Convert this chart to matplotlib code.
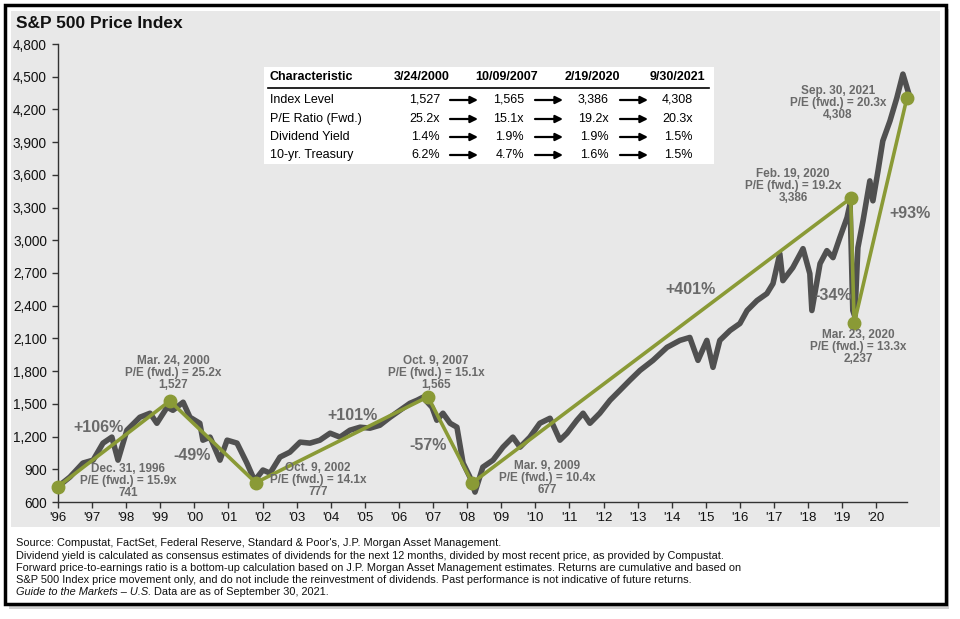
import matplotlib
matplotlib.use("Agg")
import matplotlib.pyplot as plt
from matplotlib.patches import Rectangle, FancyArrowPatch

plt.rcParams['font.family'] = ['Liberation Sans', 'DejaVu Sans']

# ---------------- data ----------------
price_x = [1996.00, 1996.35, 1996.73, 1997.03, 1997.32, 1997.58, 1997.76, 1998.02, 1998.40, 1998.70,
           1998.90, 1999.20, 1999.37, 1999.67, 1999.87, 2000.16, 2000.25, 2000.46, 2000.75, 2000.96,
           2001.25, 2001.54, 2001.72, 2001.78, 2002.01, 2002.22, 2002.51, 2002.80, 2003.10, 2003.39,
           2003.68, 2003.98, 2004.27, 2004.56, 2004.86, 2005.15, 2005.44, 2005.74, 2006.03, 2006.32,
           2006.53, 2006.70, 2006.97, 2007.11, 2007.29, 2007.50, 2007.70, 2007.88, 2008.08, 2008.23,
           2008.46, 2008.76, 2009.05, 2009.34, 2009.55, 2009.84, 2010.13, 2010.43, 2010.72, 2010.93,
           2011.22, 2011.40, 2011.60, 2011.89, 2012.19, 2012.48, 2012.77, 2013.07, 2013.45, 2013.86,
           2014.24, 2014.53, 2014.77, 2015.03, 2015.21, 2015.41, 2015.71, 2016.00, 2016.21, 2016.50,
           2016.79, 2016.97, 2017.17, 2017.26, 2017.55, 2017.85, 2018.05, 2018.11, 2018.35, 2018.55,
           2018.73, 2018.93, 2019.14, 2019.23, 2019.31, 2019.37, 2019.46, 2019.61, 2019.81, 2019.90,
           2020.05, 2020.19, 2020.40, 2020.60, 2020.78, 2020.93]
price_y = [741, 829, 957, 984, 1140, 1195, 984, 1258, 1377, 1414,
           1322, 1469, 1441, 1515, 1377, 1322, 1167, 1195, 984, 1167,
           1140, 957, 829, 801, 893, 865, 1012, 1057, 1149, 1140,
           1167, 1231, 1195, 1258, 1286, 1277, 1304, 1377, 1441, 1505,
           1533, 1560, 1469, 1350, 1414, 1322, 1286, 957, 829, 691,
           920, 984, 1103, 1195, 1103, 1195, 1322, 1368, 1167, 1231,
           1350, 1414, 1322, 1414, 1533, 1624, 1716, 1807, 1899, 2018,
           2082, 2109, 1899, 2082, 1835, 2082, 2173, 2237, 2356, 2447,
           2511, 2603, 2877, 2630, 2749, 2923, 2694, 2356, 2786, 2905,
           2841, 3024, 3207, 3335, 2356, 2300, 2932, 3179, 3545, 3362,
           3636, 3911, 4094, 4304, 4524, 4368]

peak_x = [1996.00, 1999.28, 2001.80, 2006.85, 2008.15, 2019.25, 2019.35, 2020.90]
peak_y = [741, 1527, 777, 1565, 775, 3386, 2237, 4308]
peak_labels = ["Dec. 31, 1996\nP/E (fwd.) = 15.9x\n741",
               "Mar. 24, 2000\nP/E (fwd.) = 25.2x\n1,527",
               "Oct. 9, 2002\nP/E (fwd.) = 14.1x\n777",
               "Oct. 9, 2007\nP/E (fwd.) = 15.1x\n1,565",
               "Mar. 9, 2009\nP/E (fwd.) = 10.4x\n677",
               "Feb. 19, 2020\nP/E (fwd.) = 19.2x\n3,386",
               "Mar. 23, 2020\nP/E (fwd.) = 13.3x\n2,237",
               "Sep. 30, 2021\nP/E (fwd.) = 20.3x\n4,308"]
changes = ["+106%", "-49%", "+101%", "-57%", "+401%", "-34%", "+93%"]

x_ticks = list(range(1996, 2021))
x_ticklabels = ["'%02d" % (y % 100) for y in x_ticks]
y_ticks = list(range(600, 4801, 300))
y_ticklabels = ["{:,}".format(v) for v in y_ticks]

table_header = ["Characteristic", "3/24/2000", "10/09/2007", "2/19/2020", "9/30/2021"]
table_rows = ["Index Level", "P/E Ratio (Fwd.)", "Dividend Yield", "10-yr. Treasury"]
table_values = [["1,527", "1,565", "3,386", "4,308"],
                ["25.2x", "15.1x", "19.2x", "20.3x"],
                ["1.4%", "1.9%", "1.9%", "1.5%"],
                ["6.2%", "4.7%", "1.6%", "1.5%"]]

footnotes = ["Source: Compustat, FactSet, Federal Reserve, Standard & Poor's, J.P. Morgan Asset Management.",
             "Dividend yield is calculated as consensus estimates of dividends for the next 12 months, divided by most recent price, as provided by Compustat.",
             "Forward price-to-earnings ratio is a bottom-up calculation based on J.P. Morgan Asset Management estimates. Returns are cumulative and based on",
             "S&P 500 Index price movement only, and do not include the reinvestment of dividends. Past performance is not indicative of future returns."]

# ---------------- layout helpers ----------------
W, H = 960, 619
fig = plt.figure(figsize=(W / 100, H / 100), dpi=100)
fig.patch.set_facecolor('white')


def P(x, y):
    return (x / W, 1 - y / H)


GREEN = '#8a9a36'
PRICE = '#505050'
ANN = '#6a6a6a'
BG = '#e8e8e8'

# frame, shadow, gray panel
fig.patches.append(Rectangle(P(9, 609), 940 / W, 600 / H, transform=fig.transFigure,
                             facecolor='#d0d0d0', edgecolor='none', zorder=0))
fig.patches.append(Rectangle(P(5, 604), 941 / W, 599 / H, transform=fig.transFigure,
                             facecolor='white', edgecolor='black', lw=2.5, zorder=1))
fig.patches.append(Rectangle(P(11, 527), 929 / W, 516 / H, transform=fig.transFigure,
                             facecolor=BG, edgecolor='none', zorder=2))

# ---------------- axes ----------------
ax = fig.add_axes([58 / W, 1 - 502 / H, 849 / W, 458 / H])
ax.set_facecolor('none')
ax.set_zorder(5)
ax.plot(price_x, price_y, color=PRICE, lw=4.0, solid_joinstyle='round', zorder=2, clip_on=False)
ax.plot(peak_x, peak_y, color=GREEN, lw=2.6, marker='o', ms=9, zorder=3, clip_on=False)

ax.set_xlim(1996, 2020.9)
ax.set_ylim(600, 4800)
ax.set_xticks(x_ticks)
ax.set_xticklabels(x_ticklabels, fontsize=9.5)
ax.set_yticks(y_ticks)
ax.set_yticklabels(y_ticklabels, fontsize=9.8)
for s in ['top', 'right']:
    ax.spines[s].set_visible(False)
for s in ['left', 'bottom']:
    ax.spines[s].set_color('#333333')
    ax.spines[s].set_linewidth(1)
ax.tick_params(axis='both', direction='out', length=4, width=1, color='#333333', labelcolor='#111111')
ax.tick_params(axis='x', pad=3)
ax.tick_params(axis='y', pad=4)

# ---------------- title ----------------
fig.text(*P(16, 24), "S&P 500 Price Index", fontsize=12.5, fontweight='bold', ha='left', va='center',
         color='#111111', zorder=6)

# ---------------- point annotations ----------------
ann_pos = [(128, 481), (173, 373), (318, 480), (436, 373), (547, 478), (793, 186), (858, 347), (838, 103)]
for (px, py), lab in zip(ann_pos, peak_labels):
    fig.text(*P(px, py), lab, fontsize=8.5, fontweight='bold', color=ANN, ha='center', va='center',
             linespacing=1.05, zorder=7)

chg_pos = [(98, 427), (192, 456), (352, 415), (428, 445), (690, 290), (833, 295), (910, 213)]
for (px, py), lab in zip(chg_pos, changes):
    fig.text(*P(px, py), lab, fontsize=11.5, fontweight='bold', color=ANN, ha='center', va='center', zorder=7)

# ---------------- table ----------------
fig.patches.append(Rectangle(P(264, 164), (714 - 264) / W, (164 - 67) / H, transform=fig.transFigure,
                             facecolor='white', edgecolor='none', zorder=6))
head_y = 77
fig.text(*P(270, head_y), table_header[0], fontsize=9, fontweight='bold', ha='left', va='center', zorder=7)
head_right = [450, 538, 620, 705]
for xr, h in zip(head_right, table_header[1:]):
    fig.text(*P(xr, head_y), h, fontsize=9, fontweight='bold', ha='right', va='center', zorder=7)
fig.add_artist(plt.Line2D([268 / W, 709 / W], [1 - 88 / H, 1 - 88 / H], color='black', lw=1.2, zorder=7))
row_y = [100, 119, 137, 155]
val_right = [440, 524, 609, 693]
arrow_x = [(450, 478), (535, 563), (620, 648)]
for ry, name, vals in zip(row_y, table_rows, table_values):
    fig.text(*P(270, ry), name, fontsize=9, ha='left', va='center', zorder=7)
    for xr, v in zip(val_right, vals):
        fig.text(*P(xr, ry), v, fontsize=9, ha='right', va='center', zorder=7)
    for x0, x1 in arrow_x:
        fig.add_artist(FancyArrowPatch(P(x0, ry), P(x1, ry), transform=fig.transFigure,
                                       arrowstyle='-|>', mutation_scale=11, lw=1.6,
                                       color='black', shrinkA=0, shrinkB=0, zorder=7))

# ---------------- footnotes ----------------
foot_y = [543, 556, 568, 580]
for fy, t in zip(foot_y, footnotes):
    fig.text(*P(16, fy), t, fontsize=7.9, ha='left', va='center', color='#111111', zorder=7)
t1 = fig.text(*P(16, 592), "Guide to the Markets \u2013 U.S.", fontsize=7.9, style='italic', ha='left',
              va='center', color='#111111', zorder=7)
fig.add_artist(matplotlib.text.Annotation(" Data are as of September 30, 2021.", xy=(1, 0.5), xycoords=t1,
                                          fontsize=7.9, ha='left', va='center', color='#111111', zorder=7))

fig.savefig("out.png", dpi=100)
